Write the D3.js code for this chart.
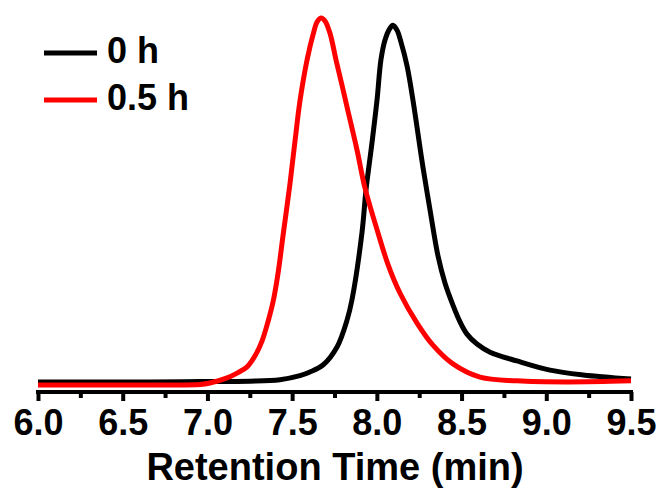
<!DOCTYPE html>
<meta charset="utf-8">
<style>
body { margin: 0; background: #fff; }
svg { display: block; }
text { font-family: "Liberation Sans", Arial, sans-serif; font-weight: bold; fill: #000; }
.trace { fill: none; stroke-width: 5; stroke-linejoin: round; }
.axis path, .axis line { stroke: #000; }
</style>
<body>
<svg width="661" height="491"></svg>
<script src="https://cdn.jsdelivr.net/npm/d3@7"></script>
<script>

// retention time (min) and normalised detector signal
var time0 = [6.000, 6.661, 6.956, 7.251, 7.428, 7.546, 7.605, 7.682, 7.765, 7.824, 7.853, 7.912, 7.936, 7.971,
             8.001, 8.024, 8.048, 8.071, 8.095, 8.119, 8.142, 8.178, 8.213, 8.272, 8.314, 8.361, 8.402, 8.449,
             8.491, 8.532, 8.591, 8.668, 8.827, 9.022, 9.217, 9.500];
var signal0 = [0.011, 0.011, 0.012, 0.013, 0.017, 0.028, 0.038, 0.057, 0.106, 0.179, 0.234, 0.416, 0.533, 0.660,
               0.777, 0.886, 0.940, 0.967, 0.980, 0.967, 0.935, 0.870, 0.777, 0.595, 0.478, 0.353, 0.280, 0.220,
               0.174, 0.141, 0.114, 0.092, 0.068, 0.043, 0.030, 0.019];

var time05 = [6.000, 6.661, 6.956, 7.015, 7.116, 7.175, 7.234, 7.281, 7.322, 7.357, 7.387, 7.417, 7.446, 7.487,
              7.517, 7.546, 7.588, 7.623, 7.647, 7.670, 7.694, 7.723, 7.759, 7.794, 7.824, 7.883, 7.930, 8.001,
              8.066, 8.137, 8.237, 8.331, 8.449, 8.609, 8.827, 9.122, 9.500];
var signal05 = [0.003, 0.003, 0.004, 0.008, 0.022, 0.035, 0.052, 0.082, 0.122, 0.174, 0.228, 0.307, 0.408, 0.549,
                0.666, 0.774, 0.886, 0.954, 0.989, 1.000, 0.992, 0.959, 0.886, 0.818, 0.758, 0.641, 0.538, 0.425,
                0.330, 0.252, 0.171, 0.111, 0.060, 0.024, 0.014, 0.011, 0.014];

var seriesNames = ["0 h", "0.5 h"];
var seriesColors = ["#000000", "#ff0000"];

var majorTicks = [6.0, 6.5, 7.0, 7.5, 8.0, 8.5, 9.0, 9.5];
var minorTicks = [6.25, 6.75, 7.25, 7.75, 8.25, 8.75, 9.25];

var svg = d3.select("svg");

var x = d3.scaleLinear().domain([6, 9.5]).range([38, 631]);
var y = d3.scaleLinear().domain([0, 1]).range([386, 18]);

var series = [
  d3.zip(time0, signal0),
  d3.zip(time05, signal05)
];

var line = d3.line()
    .x(function(d) { return x(d[0]); })
    .y(function(d) { return y(d[1]); })
    .curve(d3.curveCatmullRom.alpha(0.5));

// minor ticks
svg.append("g")
    .attr("class", "axis")
    .attr("transform", "translate(0,392)")
    .call(d3.axisBottom(x).tickValues(minorTicks).tickSize(6).tickSizeOuter(0).tickFormat(""))
    .call(function(g) { g.select(".domain").remove(); })
    .selectAll("line").attr("stroke-width", 4);

// major ticks + labels
var xAxis = svg.append("g")
    .attr("class", "axis")
    .attr("transform", "translate(0,392)")
    .call(d3.axisBottom(x).tickValues(majorTicks).tickSize(9).tickSizeOuter(0)
      .tickFormat(d3.format(".1f")));

xAxis.select(".domain").attr("stroke-width", 4).attr("d", "M36,0H633");
xAxis.selectAll(".tick line").attr("stroke-width", 4);
xAxis.selectAll(".tick text")
    .attr("font-size", 36)
    .attr("y", 43)
    .attr("dy", 0)
    .style("font-family", "'Liberation Sans', Arial, sans-serif")
    .style("font-weight", "bold");

svg.append("text")
    .attr("x", 335)
    .attr("y", 480)
    .attr("text-anchor", "middle")
    .attr("font-size", 38)
    .text("Retention Time (min)");

// traces
svg.selectAll(".trace")
  .data(series)
  .enter().append("path")
    .attr("class", "trace")
    .attr("stroke", function(d, i) { return seriesColors[i]; })
    .attr("d", line);

// legend
var legend = svg.selectAll(".legend")
  .data(seriesNames)
  .enter().append("g")
    .attr("class", "legend")
    .attr("transform", function(d, i) { return "translate(44," + (53 + i * 47) + ")"; });

legend.append("line")
    .attr("x1", 0).attr("x2", 53)
    .attr("stroke-width", 5)
    .attr("stroke", function(d, i) { return seriesColors[i]; });

legend.append("text")
    .attr("x", 63)
    .attr("y", 10)
    .attr("font-size", 36)
    .text(function(d) { return d; });

</script>
</body>
